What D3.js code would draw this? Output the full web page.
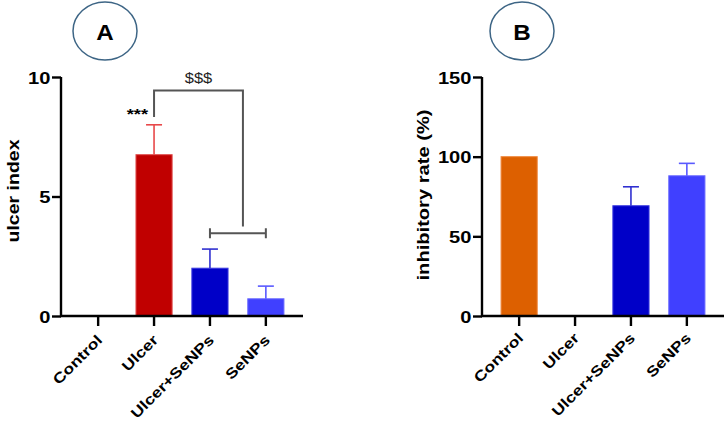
<!DOCTYPE html>
<html>
<head>
<meta charset="utf-8">
<script src="https://cdn.jsdelivr.net/npm/d3@7"></script>
<style>
  body { margin: 0; background: #fff; }
  text { font-family: "Liberation Sans", Arial, sans-serif; }
</style>
</head>
<body>
<svg id="chart" width="726" height="423"></svg>
<script>
const groups = ['Control', 'Ulcer', 'Ulcer+SeNPs', 'SeNPs'];

// panel A - ulcer index (mean, upper SD)
const ulcerIndex = [0, 6.75, 2.0, 0.72];
const ulcerIndexSD = [0, 1.25, 0.8, 0.53];
const ulcerTicks = [0, 5, 10];

// panel B - inhibitory rate (%)
const inhibRate = [100, 0, 69.2, 88.0];
const inhibRateSD = [0, 0, 11.9, 7.8];
const inhibTicks = [0, 50, 100, 150];

const fillA = ['#ffffff', '#c00000', '#0000c8', '#4040ff'];
const fillB = ['#dd6000', '#ffffff', '#0000c8', '#4040ff'];
const edge = { '#c00000': '#e05050', '#0000c8': '#3a3ae0', '#4040ff': '#6a6aff', '#dd6000': '#f08a40' };
const errCol = { '#c00000': '#e8484a', '#0000c8': '#3030d0', '#4040ff': '#5a5aff', '#dd6000': '#dd6000' };

const sx = 1.22; // glyphs in the picture are wider than plain Arial
const plotTop = 77, plotBottom = 316;

const svg = d3.select('#chart');

function panel(opts) {
    const g = svg.append('g');

    const x = d3.scaleBand()
        .domain(groups)
        .range([opts.left, opts.right])
        .paddingInner(0.353)
        .paddingOuter(0.341);
    const y = d3.scaleLinear()
        .domain([0, opts.max])
        .range([plotBottom, plotTop]);

    const rows = groups.map((grp, i) => ({ grp, v: opts.values[i], sd: opts.sd[i], fill: opts.fill[i] }));

    // bars
    g.selectAll('rect.bar')
        .data(rows.filter(d => d.v > 0))
        .enter()
        .append('rect')
        .attr('class', 'bar')
        .attr('x', d => x(d.grp))
        .attr('y', d => y(d.v))
        .attr('width', x.bandwidth())
        .attr('height', d => plotBottom - y(d.v))
        .style('fill', d => d.fill)
        .style('stroke', d => edge[d.fill])
        .style('stroke-width', 1);

    // error bars (upper only)
    const err = rows.filter(d => d.sd > 0);
    g.selectAll('line.errv')
        .data(err)
        .enter()
        .append('line')
        .attr('class', 'errv')
        .attr('x1', d => x(d.grp) + x.bandwidth() / 2)
        .attr('x2', d => x(d.grp) + x.bandwidth() / 2)
        .attr('y1', d => y(d.v))
        .attr('y2', d => y(d.v + d.sd))
        .style('stroke', d => errCol[d.fill]).style('stroke-width', 1.6);
    g.selectAll('line.errc')
        .data(err)
        .enter()
        .append('line')
        .attr('class', 'errc')
        .attr('x1', d => x(d.grp) + x.bandwidth() / 2 - 8)
        .attr('x2', d => x(d.grp) + x.bandwidth() / 2 + 8)
        .attr('y1', d => y(d.v + d.sd))
        .attr('y2', d => y(d.v + d.sd))
        .style('stroke', d => errCol[d.fill]).style('stroke-width', 1.6);

    // axes
    const yAxis = d3.axisLeft(y).tickValues(opts.ticks).tickSize(9).tickSizeOuter(0);
    const ya = g.append('g')
        .attr('transform', `translate(${opts.left},0)`)
        .call(yAxis);
    const xAxis = d3.axisBottom(x).tickSize(10).tickSizeOuter(0);
    const xa = g.append('g')
        .attr('transform', `translate(0,${plotBottom})`)
        .call(xAxis);

    [ya, xa].forEach(a => {
        a.select('.domain').style('stroke', '#000').style('stroke-width', 2.4);
        a.selectAll('.tick line').style('stroke', '#000').style('stroke-width', 2.4);
    });
    ya.select('.domain').attr('d', `M0,${plotBottom + 1}V${plotTop}`);
    xa.select('.domain').attr('d', `M${opts.left - 1},0H${opts.right}`);

    ya.selectAll('.tick text')
        .attr('x', null).attr('dy', null)
        .attr('transform', `translate(-10.5,6) scale(${sx},1)`)
        .style('font-size', '16.5px').style('font-weight', 'bold')
        .style('fill', '#000').attr('text-anchor', 'end');

    xa.selectAll('.tick text')
        .attr('y', null).attr('dy', null)
        .attr('transform', `translate(5,${opts.labelDy}) rotate(-45) scale(${sx},1)`)
        .style('font-size', '14.5px').style('font-weight', 'bold')
        .style('fill', '#000').attr('text-anchor', 'end');

    // y title
    g.append('text')
        .attr('transform', `translate(${opts.titleX},${opts.titleY}) rotate(-90) scale(${sx},1)`)
        .attr('text-anchor', 'middle')
        .style('font-size', opts.titleSize + 'px').style('font-weight', 'bold')
        .text(opts.title);

    // panel letter
    g.append('ellipse')
        .attr('cx', opts.circleX).attr('cy', 31)
        .attr('rx', 32).attr('ry', 29)
        .style('fill', 'none').style('stroke', '#3d6585').style('stroke-width', 1.5);
    g.append('text')
        .attr('transform', `translate(${opts.circleX},40) scale(1.1,1)`)
        .attr('text-anchor', 'middle')
        .style('font-size', '22px').style('font-weight', 'bold')
        .text(opts.letter);

    return { g, x, y };
}

const A = panel({
    left: 61, right: 303, max: 10, ticks: ulcerTicks,
    values: ulcerIndex, sd: ulcerIndexSD, fill: fillA, labelDy: 25,
    title: 'ulcer index', titleX: 19, titleY: 191, titleSize: 16,
    circleX: 105, letter: 'A'
});

panel({
    left: 482, right: 724, max: 150, ticks: inhibTicks,
    values: inhibRate, sd: inhibRateSD, fill: fillB, labelDy: 23,
    title: 'inhibitory rate (%)', titleX: 428.5, titleY: 195, titleSize: 16.5,
    circleX: 522, letter: 'B'
});

// significance marks on panel A
const xs = A.x, ys = A.y, bw = xs.bandwidth();
const cUlcer = xs('Ulcer') + bw / 2;
const cCombo = xs('Ulcer+SeNPs') + bw / 2;
const cSe = xs('SeNPs') + bw / 2;
const cRight = cCombo + (cSe - cCombo) * 0.59;

A.g.append('path')
    .attr('d', `M${cUlcer},${ys(8.33)}V${ys(9.43)}H${cRight}V${ys(3.74)}`)
    .style('fill', 'none').style('stroke', '#555').style('stroke-width', 2);
A.g.append('path')
    .attr('d', `M${cCombo},${ys(3.46) - 5}V${ys(3.46) + 5}M${cCombo},${ys(3.46)}H${cSe}M${cSe},${ys(3.46) - 5}V${ys(3.46) + 5}`)
    .style('fill', 'none').style('stroke', '#555').style('stroke-width', 2);

A.g.append('text')
    .attr('transform', `translate(${cUlcer - 6},${ys(8.33) + 2}) scale(${sx},1)`)
    .attr('text-anchor', 'end')
    .style('font-size', '15px').style('font-weight', 'bold')
    .text('***');
A.g.append('text')
    .attr('transform', `translate(${(cUlcer + cRight) / 2},${ys(9.8) + 1.5}) scale(1.1,1)`)
    .attr('text-anchor', 'middle')
    .style('font-size', '15px').style('fill', '#222')
    .text('$$$');
</script>
</body>
</html>
